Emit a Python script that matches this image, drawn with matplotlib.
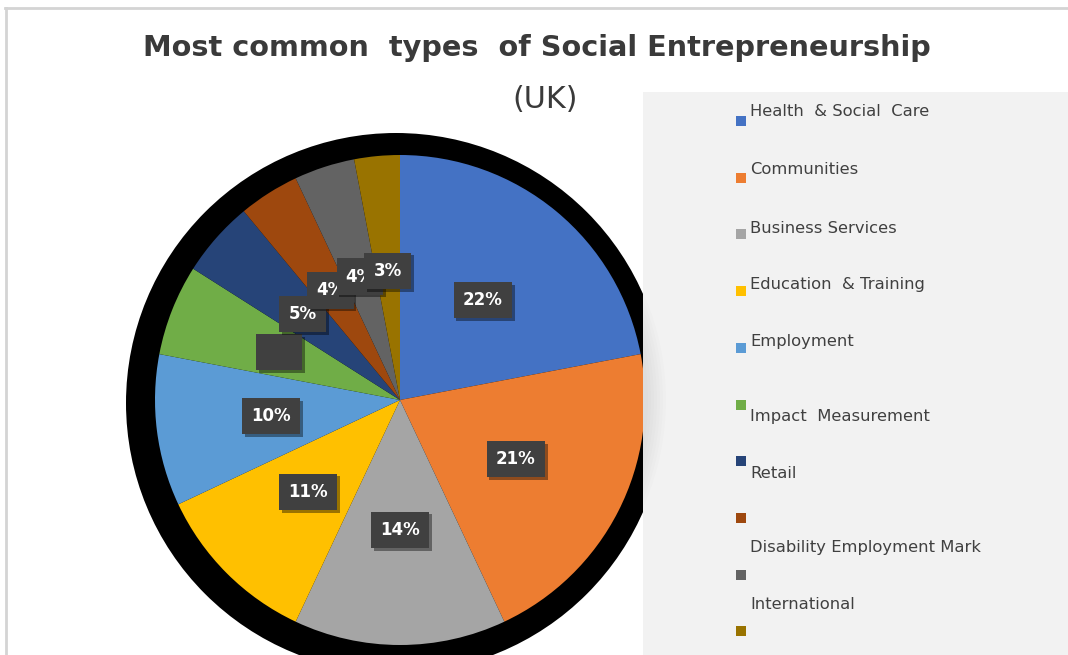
import matplotlib
matplotlib.use("Agg")
import matplotlib.pyplot as plt
from matplotlib.patches import Rectangle, Circle
from matplotlib import patheffects as pe
from matplotlib import font_manager as fm

# ---- data ----
categories = ["Health  & Social  Care", "Communities", "Business Services",
              "Education  & Training", "Employment", "Impact  Measurement",
              "Retail", "Disability Employment Mark", "International", ""]
values = [22, 21, 14, 11, 10, 6, 5, 4, 4, 3]
colors = ["#4472C4", "#ED7D31", "#A5A5A5", "#FFC000", "#5B9BD5",
          "#70AD47", "#264478", "#9E480E", "#636363", "#997300"]
hidden_label = "Impact  Measurement"   # its data label box shows no text
title_line1 = "Most common  types  of Social Entrepreneurship"
title_line2 = "(UK)"

W, H = 1068, 655
fig = plt.figure(figsize=(W / 100, H / 100), dpi=100)
fig.patch.set_facecolor("white")
ax = fig.add_axes([0, 0, 1, 1])
ax.set_xlim(0, W)
ax.set_ylim(0, H)
ax.set_aspect("equal")
ax.axis("off")

def Y(y):
    return H - y

def pick(fams):
    for f in fams:
        try:
            fm.findfont(fm.FontProperties(family=f), fallback_to_default=False)
            return f
        except Exception:
            pass
    return "DejaVu Sans"

title_font = pick(["Liberation Sans Narrow", "DejaVu Sans"])
text_col = "#404040"

# frame lines
ax.plot([5, W], [Y(8), Y(8)], color="#d4d4d4", lw=2, zorder=1)
ax.plot([6, 6], [Y(8), 0], color="#d4d4d4", lw=2, zorder=1)

cx, cy, R = 400, 400, 245

# black shadow behind pie
ax.add_patch(Circle((cx - 4, Y(cy) - 3), 270, facecolor="black", edgecolor="none", zorder=2))

wedges, texts, autotexts = ax.pie(
    values, colors=colors, startangle=90, counterclock=False,
    center=(cx, Y(cy)), radius=R, autopct=lambda p: f"{p:.0f}%",
    pctdistance=0.53, frame=True,
    wedgeprops=dict(linewidth=0, zorder=3),
    textprops=dict(color="white", fontsize=12, fontweight="bold", zorder=6))
ax.set_xlim(0, W)
ax.set_ylim(0, H)
ax.axis("off")

for cat, t in zip(categories, autotexts):
    t.set_zorder(6)
    t.set_bbox(dict(boxstyle="square,pad=0.55", facecolor="#404040", edgecolor="none"))
    t.get_bbox_patch().set_path_effects([
        pe.SimplePatchShadow(offset=(2, -2), shadow_rgbFace="black", alpha=0.4),
        pe.Normal()])
    if cat == hidden_label:
        t.set_color("#404040")

# legend panel
ax.add_patch(Rectangle((643, 0), W - 643, Y(92), facecolor="#f2f2f2",
                       edgecolor="none", zorder=4))
# soft shadow on the panel
clip = Rectangle((643, 0), W - 643, Y(92), transform=ax.transData)
for r in range(248, 268, 3):
    c = Circle((cx, Y(cy)), r, facecolor="black", edgecolor="none", alpha=0.012, zorder=4.5)
    ax.add_patch(c)
    c.set_clip_path(clip)

# legend entries
sq0, dsq = 121, 56.7
offsets = [-9, -8, -6, -7, -6, 12, 12, 30, 30, 30]
for i, (cat, col) in enumerate(zip(categories, colors)):
    ys = sq0 + i * dsq
    ax.add_patch(Rectangle((736, Y(ys + 5)), 10, 10, facecolor=col,
                           edgecolor="none", zorder=5))
    if cat:
        ax.text(750, Y(ys + offsets[i]), cat, fontsize=11.8, color=text_col,
                ha="left", va="center", zorder=5)

# title
t1 = fig.text(537 / W, 1 - 48 / H, title_line1, family=title_font, fontsize=26,
              fontweight="bold", color="#3a3a3a", ha="center", va="center")
t2 = fig.text(545 / W, 1 - 100 / H, title_line2, family=title_font, fontsize=26,
              color="#3a3a3a", ha="center", va="center")
fig.canvas.draw()
w = t1.get_window_extent().width
fs = 26 * 790 / w
t1.set_fontsize(fs)
t2.set_fontsize(fs * 1.05)

fig.savefig("out.png", dpi=100, facecolor="white")
